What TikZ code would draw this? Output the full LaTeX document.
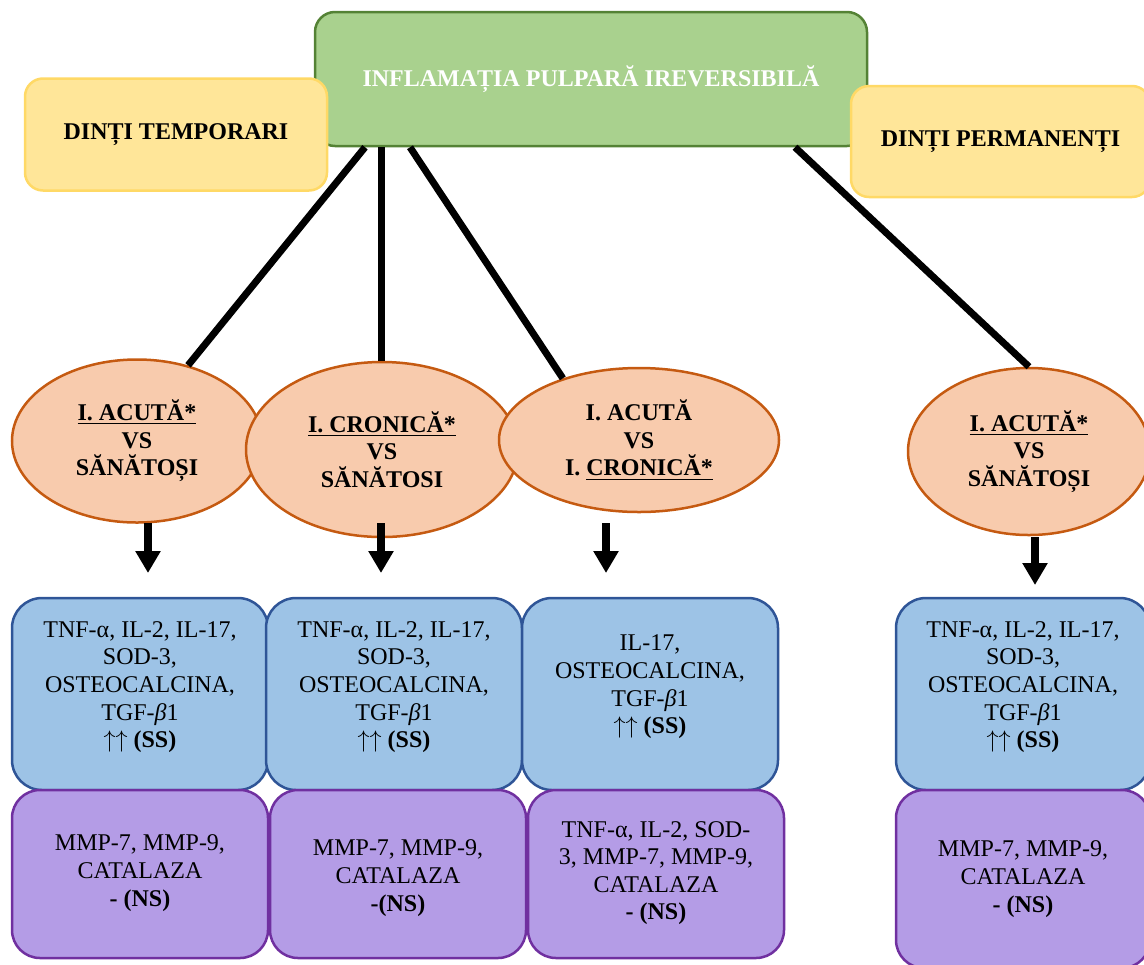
\documentclass[tikz,border=0pt]{standalone}
\usepackage{fontspec}
\setmainfont{Liberation Serif}
\usetikzlibrary{shapes.geometric,arrows.meta}
\definecolor{gfill}{HTML}{A9D18E}
\definecolor{gdraw}{HTML}{548235}
\definecolor{yfill}{HTML}{FFE699}
\definecolor{ydraw}{HTML}{FFD966}
\definecolor{ofill}{HTML}{F8CBAD}
\definecolor{odraw}{HTML}{C55A11}
\definecolor{bfill}{HTML}{9DC3E6}
\definecolor{bdraw}{HTML}{2F5597}
\definecolor{pfill}{HTML}{B49CE6}
\definecolor{pdraw}{HTML}{7030A0}
\newcommand{\upup}{$\uparrow\uparrow$}
\begin{document}
\begin{tikzpicture}[x=0.5pt,y=-0.5pt,
  txt/.style={align=center,inner sep=0pt,font=\fontsize{12}{13.8}\selectfont},
  greenbox/.style={txt,draw=gdraw,fill=gfill,line width=1.25pt,rounded corners=10pt,
    minimum width=276pt,minimum height=67pt,text=white,font=\fontsize{12}{13.8}\selectfont\bfseries},
  yellowbox/.style={txt,draw=ydraw,fill=yfill,line width=1.25pt,rounded corners=9pt,
    minimum height=56pt,font=\fontsize{12}{13.8}\selectfont\bfseries},
  ell/.style={txt,ellipse,draw=odraw,fill=ofill,line width=1.25pt,font=\fontsize{12}{13.8}\selectfont\bfseries},
  bluebox/.style={draw=bdraw,fill=bfill,line width=1.25pt,rounded corners=15pt,
    minimum height=96pt,inner sep=0pt},
  purplebox/.style={draw=pdraw,fill=pfill,line width=1.25pt,rounded corners=14pt,inner sep=0pt},
  link/.style={line width=3.5pt,black},
  arr/.style={line width=4pt,black,-{Triangle[width=12pt,length=11pt]}}
]
\useasboundingbox (0,0) rectangle (1144,964);

% top boxes
\node[greenbox] (g) at (591,79) {INFLAMAȚIA PULPARĂ IREVERSIBILĂ};
\node[yellowbox,minimum width=151pt] (yl) at (176,134.5) {DINȚI TEMPORARI};
\node[yellowbox,minimum width=149.5pt,minimum height=55.5pt] (yr) at (1000.5,141.5) {DINȚI PERMANENȚI};

% ellipses
\node[ell,minimum width=125pt,minimum height=81.5pt] (e1) at (137,441)
  {\underline{I. ACUTĂ*}\\VS\\SĂNĂTOȘI};
\node[ell,minimum width=136pt,minimum height=87.5pt] (e2) at (382,449.5)
  {\underline{I. CRONICĂ*}\\VS\\SĂNĂTOSI};
\node[ell,minimum width=140pt,minimum height=72pt] (e3) at (639,440)
  {I. ACUTĂ\\VS\\I. \underline{CRONICĂ*}};
\node[ell,minimum width=121pt,minimum height=83.5pt] (e4) at (1029,451.5)
  {\underline{I. ACUTĂ*}\\VS\\SĂNĂTOȘI};

% links from the title box
\draw[link] (g.south -| 365,0) -- (e1.56);
\draw[link] (g.south -| 381,0) -- (381,355 |- e2.north);
\draw[link] (g.south -| 410,0) -- (e3.141);
\draw[link] (g.south -| 795,0) -- (e4.north);

% blue boxes
\node[bluebox,minimum width=128pt] (b1) at (140,694) {};
\node[bluebox,minimum width=128pt] (b2) at (394,694) {};
\node[bluebox,minimum width=128pt] (b3) at (650,694) {};
\node[bluebox,minimum width=127pt] (b4) at (1023,694) {};
\node[txt] (t1) at (140,687)
  {TNF-α, IL-2, IL-17,\\SOD-3,\\OSTEOCALCINA,\\TGF-{\itshape β}1\\\upup{} \textbf{(SS)}};
\node[txt] (t2) at (394,687)
  {TNF-α, IL-2, IL-17,\\SOD-3,\\OSTEOCALCINA,\\TGF-{\itshape β}1\\\upup{} \textbf{(SS)}};
\node[txt] (t3) at (650,687)
  {IL-17,\\OSTEOCALCINA,\\TGF-{\itshape β}1\\\upup{} \textbf{(SS)}};
\node[txt] (t4) at (1023,687)
  {TNF-α, IL-2, IL-17,\\SOD-3,\\OSTEOCALCINA,\\TGF-{\itshape β}1\\\upup{} \textbf{(SS)}};

% purple boxes
\node[purplebox,minimum width=128pt,minimum height=84pt] (p1) at (140,874) {};
\node[purplebox,minimum width=128pt,minimum height=84pt] (p2) at (398,874) {};
\node[purplebox,minimum width=128pt,minimum height=84pt] (p3) at (656,874) {};
\node[purplebox,minimum width=127pt,minimum height=89pt] (p4) at (1023,879) {};
\node[txt] (q1) at (140,873) {MMP-7, MMP-9,\\CATALAZA\\\textbf{- (NS)}};
\node[txt] (q2) at (398,878) {MMP-7, MMP-9,\\CATALAZA\\\textbf{-(NS)}};
\node[txt] (q3) at (656,873) {TNF-α, IL-2, SOD-\\3, MMP-7, MMP-9,\\CATALAZA\\\textbf{- (NS)}};
\node[txt] (q4) at (1023,879) {MMP-7, MMP-9,\\CATALAZA\\\textbf{- (NS)}};

% arrows from ellipses to blue boxes
\coordinate (a1s) at (148,523); \coordinate (a1e) at (148,573);
\coordinate (a2s) at (381,523); \coordinate (a2e) at (381,573);
\coordinate (a3s) at (606,523); \coordinate (a3e) at (606,573);
\coordinate (a4s) at (1035,537); \coordinate (a4e) at (1035,585);
\draw[arr] (a1s) -- (a1e);
\draw[arr] (a2s) -- (a2e);
\draw[arr] (a3s) -- (a3e);
\draw[arr] (a4s) -- (a4e);
\end{tikzpicture}
\end{document}
